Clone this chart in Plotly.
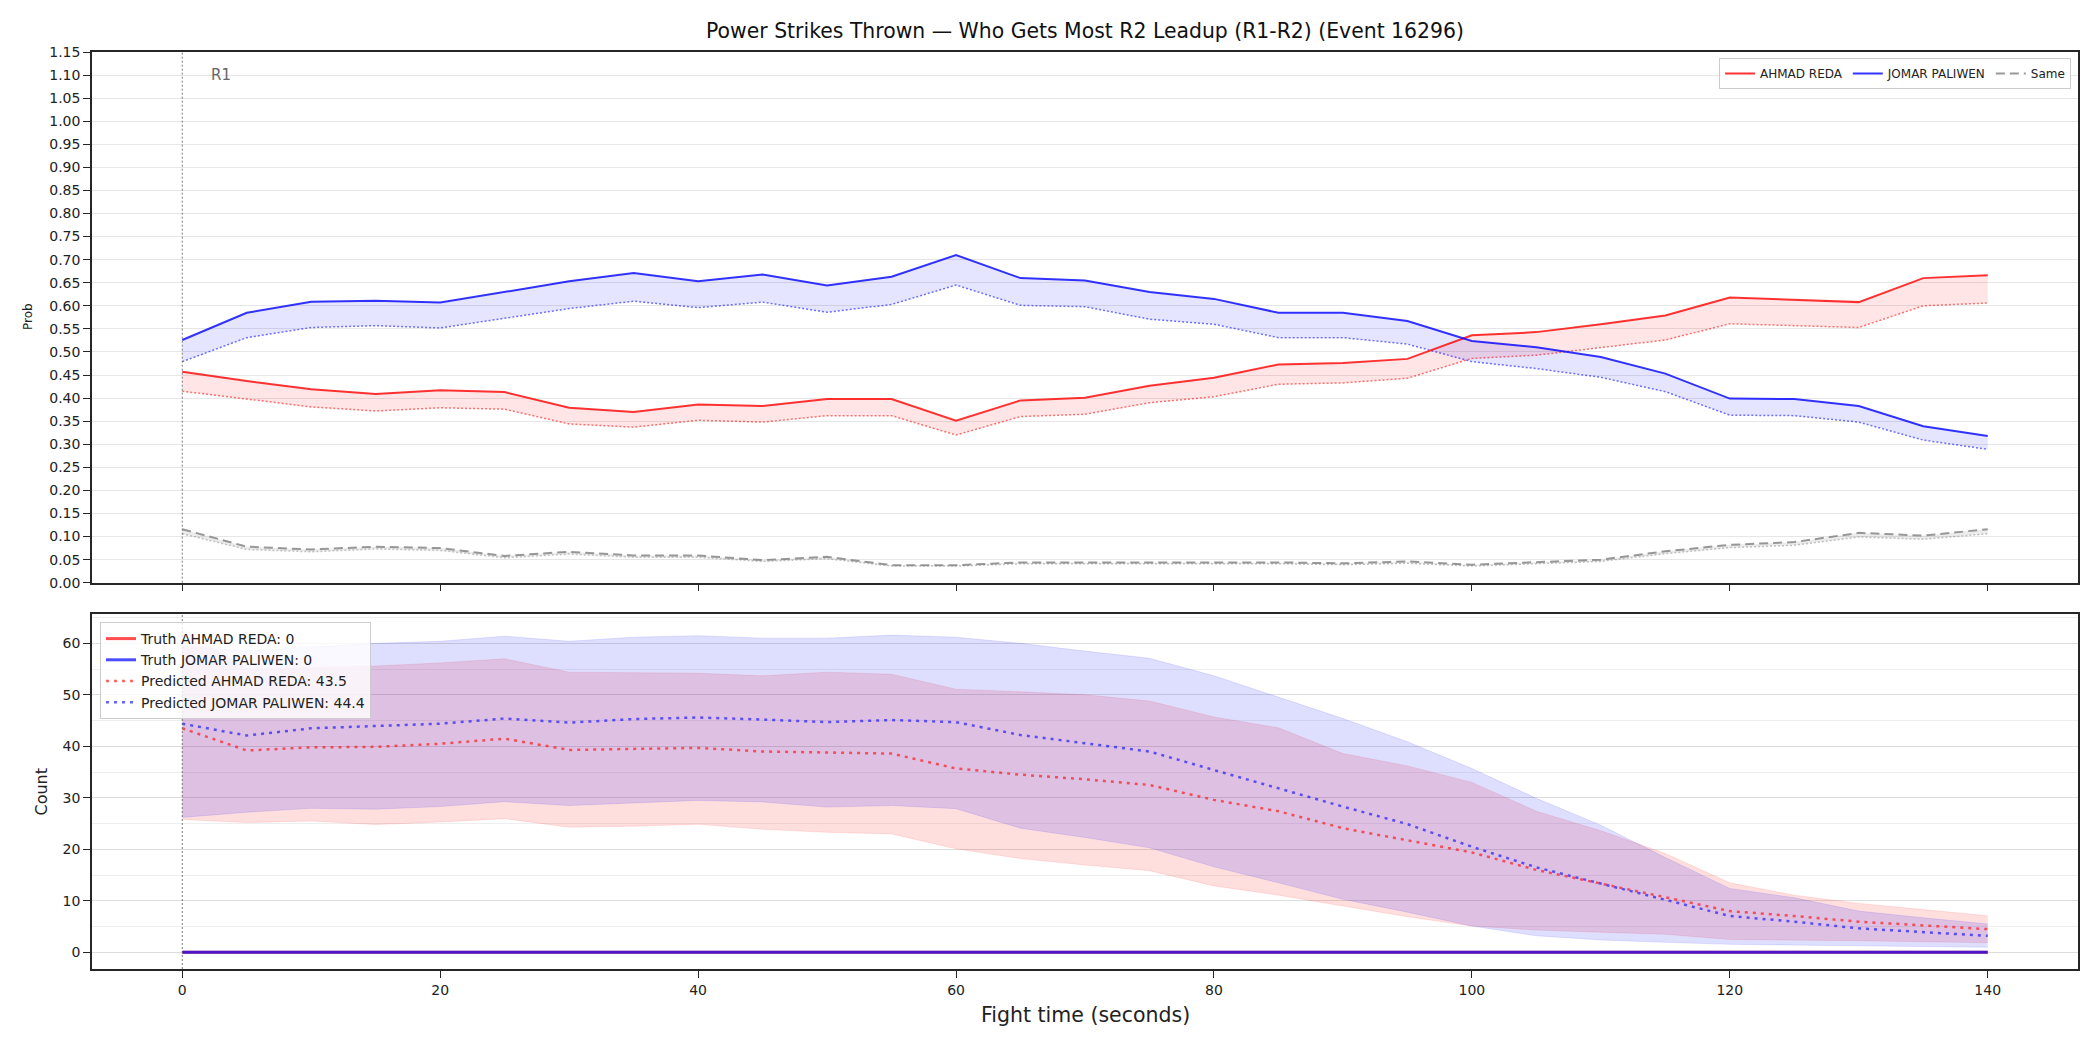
import plotly.graph_objects as go

# ---------------- data ----------------
fight_time = [0, 5, 10, 15, 20, 25, 30, 35, 40, 45, 50, 55, 60, 65, 70,
              75, 80, 85, 90, 95, 100, 105, 110, 115, 120, 125, 130, 135, 140]

# top panel: probability of getting most power strikes
ahmad_prob = [0.457, 0.437, 0.419, 0.409, 0.417, 0.413, 0.379, 0.370, 0.386, 0.383,
              0.398, 0.398, 0.351, 0.395, 0.401, 0.427, 0.444, 0.473, 0.476, 0.485,
              0.536, 0.543, 0.560, 0.579, 0.618, 0.613, 0.608, 0.660, 0.666]
ahmad_prob_pred = [0.415, 0.398, 0.381, 0.372, 0.379, 0.376, 0.344, 0.337, 0.352, 0.348,
                   0.362, 0.362, 0.320, 0.360, 0.365, 0.390, 0.403, 0.430, 0.433, 0.443,
                   0.486, 0.493, 0.509, 0.526, 0.561, 0.557, 0.553, 0.600, 0.606]
jomar_prob = [0.526, 0.585, 0.609, 0.611, 0.607, 0.630, 0.653, 0.671, 0.653, 0.668,
              0.644, 0.663, 0.710, 0.660, 0.655, 0.630, 0.615, 0.585, 0.585, 0.567,
              0.524, 0.510, 0.489, 0.453, 0.399, 0.398, 0.383, 0.339, 0.318]
jomar_prob_pred = [0.479, 0.531, 0.553, 0.557, 0.552, 0.573, 0.594, 0.610, 0.596, 0.608,
                   0.586, 0.603, 0.645, 0.601, 0.598, 0.571, 0.560, 0.531, 0.531, 0.517,
                   0.479, 0.464, 0.445, 0.414, 0.363, 0.362, 0.348, 0.309, 0.289]
same_prob = [0.116, 0.078, 0.072, 0.078, 0.075, 0.058, 0.067, 0.059, 0.059, 0.049,
             0.056, 0.038, 0.038, 0.044, 0.044, 0.044, 0.043, 0.044, 0.042, 0.046,
             0.039, 0.044, 0.050, 0.068, 0.082, 0.088, 0.108, 0.102, 0.116]
same_prob_pred = [0.106, 0.072, 0.067, 0.073, 0.070, 0.054, 0.062, 0.055, 0.055, 0.046,
                  0.052, 0.036, 0.036, 0.041, 0.041, 0.041, 0.040, 0.041, 0.039, 0.042,
                  0.036, 0.041, 0.046, 0.063, 0.076, 0.081, 0.099, 0.094, 0.106]

# bottom panel: counts
ahmad_truth = [0] * 29
jomar_truth = [0] * 29
ahmad_count_pred = [43.5, 39.2, 39.8, 39.9, 40.5, 41.5, 39.3, 39.5, 39.7, 39.0,
                    38.8, 38.6, 35.7, 34.5, 33.6, 32.5, 29.6, 27.4, 24.1, 21.8,
                    19.4, 16.0, 13.4, 10.7, 8.0, 7.05, 5.95, 5.2, 4.5]
jomar_count_pred = [44.4, 42.1, 43.5, 43.9, 44.4, 45.4, 44.6, 45.3, 45.6, 45.2,
                    44.7, 45.1, 44.7, 42.2, 40.6, 39.0, 35.4, 31.8, 28.3, 24.9,
                    20.5, 16.5, 13.4, 10.2, 7.05, 5.95, 4.65, 3.9, 3.2]
ahmad_count_hi = [62.6, 55.0, 55.3, 55.6, 56.2, 57.0, 54.4, 54.3, 54.2, 53.7,
                  54.4, 54.0, 51.1, 50.6, 50.0, 48.8, 45.7, 43.6, 38.6, 36.2,
                  33.0, 27.4, 23.6, 19.2, 13.5, 11.1, 9.5, 8.3, 7.1]
ahmad_count_lo = [25.8, 25.2, 25.5, 24.8, 25.3, 25.95, 24.3, 24.5, 24.85, 23.9,
                  23.3, 23.0, 20.1, 18.2, 16.95, 15.85, 12.9, 11.1, 9.0, 6.9,
                  5.1, 4.33, 3.9, 3.5, 2.5, 2.4, 2.25, 2.05, 1.87]
jomar_count_hi = [59.5, 58.5, 59.3, 60.0, 60.4, 61.4, 60.4, 61.2, 61.5, 61.0,
                  61.0, 61.6, 61.2, 60.0, 58.5, 57.1, 53.7, 49.6, 45.4, 40.9,
                  35.7, 29.9, 24.7, 18.4, 12.4, 10.6, 8.0, 6.7, 5.5]
jomar_count_lo = [26.2, 27.2, 27.96, 27.8, 28.3, 29.25, 28.5, 29.05, 29.5, 29.2,
                  28.2, 28.5, 27.9, 24.1, 22.3, 20.3, 16.6, 13.5, 10.3, 7.8,
                  5.1, 3.2, 2.4, 1.94, 1.55, 1.4, 1.3, 1.1, 0.97]

name_a = "AHMAD REDA"
name_b = "JOMAR PALIWEN"
title_text = "Power Strikes Thrown \u2014 Who Gets Most R2 Leadup (R1-R2) (Event 16296)"
x_ticks = [0, 20, 40, 60, 80, 100, 120, 140]

# ---------------- figure ----------------
FONT = "DejaVu Sans"
fig = go.Figure()


def add_band(x, lo, hi, fill, edge, ew, xa, ya):
    fig.add_trace(go.Scatter(x=x, y=lo, mode="lines", line=dict(color=edge, width=ew),
                             showlegend=False, hoverinfo="skip", xaxis=xa, yaxis=ya))
    fig.add_trace(go.Scatter(x=x, y=hi, mode="lines", line=dict(color=edge, width=ew),
                             fill="tonexty", fillcolor=fill, showlegend=False,
                             hoverinfo="skip", xaxis=xa, yaxis=ya))


# top bands
add_band(fight_time, ahmad_prob_pred, ahmad_prob, "rgba(255,0,0,0.10)", "rgba(0,0,0,0)", 0, "x", "y")
add_band(fight_time, jomar_prob_pred, jomar_prob, "rgba(0,0,255,0.10)", "rgba(0,0,0,0)", 0, "x", "y")
add_band(fight_time, same_prob_pred, same_prob, "rgba(128,128,128,0.15)", "rgba(0,0,0,0)", 0, "x", "y")

# top dotted predicted lines
fig.add_trace(go.Scatter(x=fight_time, y=ahmad_prob_pred, mode="lines",
                         line=dict(color="rgba(255,0,0,0.55)", width=1.5, dash="2px,2px"),
                         showlegend=False, xaxis="x", yaxis="y"))
fig.add_trace(go.Scatter(x=fight_time, y=jomar_prob_pred, mode="lines",
                         line=dict(color="rgba(0,0,255,0.55)", width=1.5, dash="2px,2px"),
                         showlegend=False, xaxis="x", yaxis="y"))
fig.add_trace(go.Scatter(x=fight_time, y=same_prob_pred, mode="lines",
                         line=dict(color="rgba(128,128,128,0.45)", width=1.5, dash="2px,2px"),
                         showlegend=False, xaxis="x", yaxis="y"))

# top main lines
fig.add_trace(go.Scatter(x=fight_time, y=ahmad_prob, mode="lines", name=name_a,
                         line=dict(color="rgba(255,0,0,0.8)", width=2),
                         legend="legend", xaxis="x", yaxis="y"))
fig.add_trace(go.Scatter(x=fight_time, y=jomar_prob, mode="lines", name=name_b,
                         line=dict(color="rgba(0,0,255,0.8)", width=2),
                         legend="legend", xaxis="x", yaxis="y"))
fig.add_trace(go.Scatter(x=fight_time, y=same_prob, mode="lines", name="Same",
                         line=dict(color="rgba(128,128,128,0.8)", width=2, dash="9px,5px"),
                         legend="legend", xaxis="x", yaxis="y"))

# bottom bands
add_band(fight_time, ahmad_count_lo, ahmad_count_hi, "rgba(255,0,0,0.13)", "rgba(255,0,0,0.10)", 1, "x2", "y2")
add_band(fight_time, jomar_count_lo, jomar_count_hi, "rgba(0,0,255,0.13)", "rgba(0,0,255,0.10)", 1, "x2", "y2")

# bottom lines
fig.add_trace(go.Scatter(x=fight_time, y=ahmad_truth, mode="lines", name=f"Truth {name_a}: 0",
                         line=dict(color="rgba(255,0,0,0.7)", width=3),
                         legend="legend2", xaxis="x2", yaxis="y2"))
fig.add_trace(go.Scatter(x=fight_time, y=jomar_truth, mode="lines", name=f"Truth {name_b}: 0",
                         line=dict(color="rgba(0,0,255,0.7)", width=3),
                         legend="legend2", xaxis="x2", yaxis="y2"))
fig.add_trace(go.Scatter(x=fight_time, y=ahmad_count_pred, mode="lines",
                         name=f"Predicted {name_a}: {ahmad_count_pred[0]}",
                         line=dict(color="rgba(255,0,0,0.6)", width=2.5, dash="3px,5px"),
                         legend="legend2", xaxis="x2", yaxis="y2"))
fig.add_trace(go.Scatter(x=fight_time, y=jomar_count_pred, mode="lines",
                         name=f"Predicted {name_b}: {jomar_count_pred[0]}",
                         line=dict(color="rgba(0,0,255,0.6)", width=2.5, dash="3px,5px"),
                         legend="legend2", xaxis="x2", yaxis="y2"))

# ---------------- layout ----------------
W, H = 2100, 1050
ML, MR, MT, MB = 92, 22, 52, 81
PW = W - ML - MR
PH = H - MT - MB

def py(px):  # pixel y -> paper y
    return (H - MB - px) / PH

def px_(p):  # pixel x -> paper x
    return (p - ML) / PW

AXC = "#262626"
axis_common = dict(showline=True, mirror=True, linecolor=AXC, linewidth=1.5,
                   ticks="outside", ticklen=7, tickwidth=1.3, tickcolor=AXC,
                   zeroline=False, tickfont=dict(family=FONT, size=14, color="#222"))

fig.update_layout(
    width=W, height=H,
    margin=dict(l=ML, r=MR, t=MT, b=MB),
    paper_bgcolor="white", plot_bgcolor="white",
    font=dict(family=FONT, color="#222"),
    title=dict(text=title_text, x=0.5, xref="paper", xanchor="center",
               y=1 - 31 / H, yref="container", yanchor="middle",
               font=dict(family=FONT, size=20.4, color="#111")),
    xaxis=dict(domain=[0, 1], anchor="y", range=[-7, 147], tickvals=x_ticks,
               showticklabels=False, showgrid=False, matches="x2", **axis_common),
    yaxis=dict(domain=[py(582.7), 1], anchor="x", range=[0, 1.15], dtick=0.05,
               tickformat=".2f", showgrid=True, gridcolor="#e6e6e6", gridwidth=1,
               **axis_common),
    xaxis2=dict(domain=[0, 1], anchor="y2", range=[-7, 147], tickvals=x_ticks,
                showgrid=False, **axis_common),
    yaxis2=dict(domain=[0, py(614)], anchor="x2", range=[-3.24, 65.7],
                tickvals=[0, 10, 20, 30, 40, 50, 60], showgrid=True,
                gridcolor="#dddddd", gridwidth=1,
                minor=dict(dtick=5, showgrid=True, gridcolor="#eeeeee", gridwidth=1, ticks=""),
                **axis_common),
    legend=dict(orientation="h", x=px_(2071), xanchor="right", y=py(58), yanchor="top",
                traceorder="normal",
                bgcolor="rgba(255,255,255,0.85)", bordercolor="#cccccc", borderwidth=1,
                font=dict(family=FONT, size=12, color="#222"), itemwidth=30,
                tracegroupgap=0),
    legend2=dict(orientation="v", x=px_(100), xanchor="left", y=py(622), yanchor="top",
                 traceorder="normal",
                 bgcolor="rgba(255,255,255,0.8)", bordercolor="#cccccc", borderwidth=1,
                 font=dict(family=FONT, size=14, color="#222"), tracegroupgap=2),
    shapes=[
        dict(type="line", xref="x", yref="y domain", x0=0, x1=0, y0=0, y1=1,
             line=dict(color="rgba(90,90,90,0.8)", width=1, dash="2px,2px"), layer="above"),
        dict(type="line", xref="x2", yref="y2 domain", x0=0, x1=0, y0=0, y1=1,
             line=dict(color="rgba(90,90,90,0.8)", width=1, dash="2px,2px"), layer="above"),
    ],
    annotations=[
        dict(text="R1", x=2.1, y=1.10, xref="x", yref="y", xanchor="left", yanchor="middle",
             showarrow=False, font=dict(family=FONT, size=15, color="#666666")),
        dict(text="Prob", x=px_(28), y=py(317), xref="paper", yref="paper", textangle=-90,
             xanchor="center", yanchor="middle", showarrow=False,
             font=dict(family=FONT, size=12, color="#222")),
        dict(text="Count", x=px_(41), y=py(791.5), xref="paper", yref="paper", textangle=-90,
             xanchor="center", yanchor="middle", showarrow=False,
             font=dict(family=FONT, size=16, color="#222")),
        dict(text="Fight time (seconds)", x=0.5, y=py(1015), xref="paper", yref="paper",
             xanchor="center", yanchor="middle", showarrow=False,
             font=dict(family=FONT, size=20.5, color="#222")),
    ],
)

fig.write_html("out.html")
